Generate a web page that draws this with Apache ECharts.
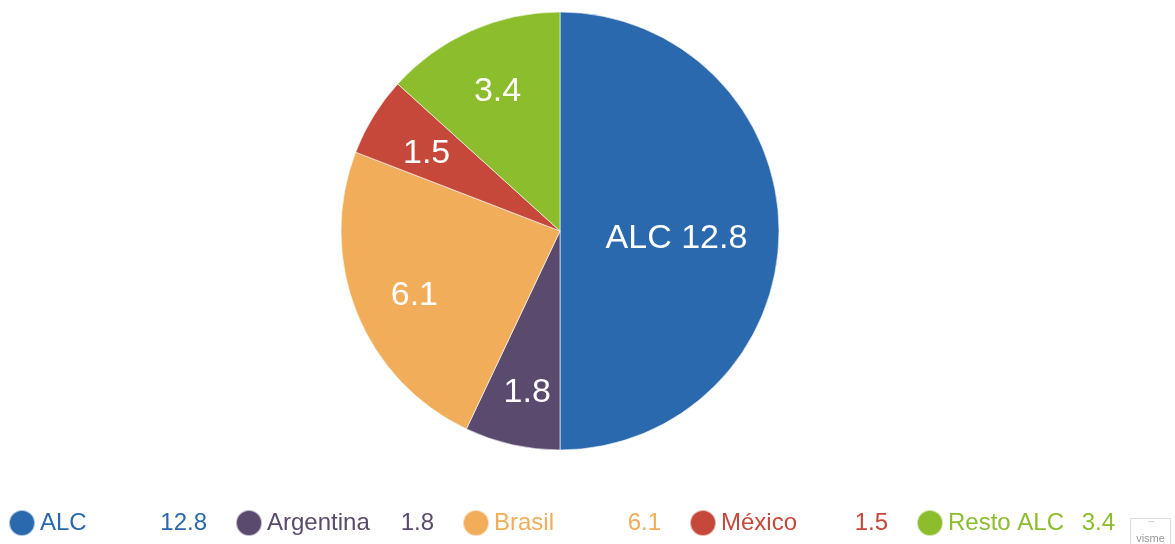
<!DOCTYPE html>
<html>
<head>
<meta charset="utf-8">
<script src="https://cdn.jsdelivr.net/npm/echarts@6/dist/echarts.min.js"></script>
<style>
  html, body { margin: 0; padding: 0; background: #fff; }
  #chart { width: 1175px; height: 544px; }
</style>
</head>
<body>
<div id="chart"></div>
<script>
const names = ['ALC', 'Argentina', 'Brasil', 'México', 'Resto ALC']
const values = [12.8, 1.8, 6.1, 1.5, 3.4]
const colors = ['#2a69ad', '#594a6e', '#f1ad59', '#c5483a', '#8bbd2c']

const chart = echarts.init(document.getElementById('chart'))

const pieData = names.map((name, i) => ({
  name,
  value: values[i],
  itemStyle: { color: colors[i] }
}))

const option = {
  animation: false,
  textStyle: { fontFamily: 'Liberation Sans, Arial, sans-serif' },
  legend: {
    left: 8,
    top: 509,
    padding: 0,
    orient: 'horizontal',
    icon: 'circle',
    itemWidth: 26,
    itemHeight: 26,
    itemGap: 28,
    itemTextGap: 3,
    selectedMode: false,
    data: names.map((name, i) => ({ name, textStyle: { color: colors[i] } })),
    formatter: (name) => `{n|${name}}{v|${values[names.indexOf(name)]}}`,
    textStyle: {
      fontSize: 24,
      rich: {
        n: { fontSize: 24, width: 124 },
        v: { fontSize: 24, width: 43, align: 'right' }
      }
    }
  },
  series: [
    {
      // main pie, only the big slice gets a label here
      type: 'pie',
      center: [560, 231],
      radius: [0, 219],
      startAngle: 90,
      clockwise: true,
      silent: true,
      itemStyle: { borderColor: 'rgba(255,255,255,0.6)', borderWidth: 1 },
      label: {
        show: true,
        position: 'inside',
        color: '#fff',
        fontSize: 34,
        offset: [4, 8],
        formatter: (p) => p.dataIndex === 0 ? `${p.name} ${p.value}` : ''
      },
      labelLine: { show: false },
      data: pieData
    },
    {
      // transparent ring that places the small slice labels further out
      type: 'pie',
      center: [560, 231],
      radius: [93, 219],
      startAngle: 90,
      clockwise: true,
      silent: true,
      itemStyle: { color: 'rgba(0,0,0,0)' },
      label: {
        show: true,
        position: 'inside',
        color: '#fff',
        fontSize: 34,
        offset: [2, 6],
        formatter: (p) => p.dataIndex === 0 ? '' : `${p.value}`
      },
      labelLine: { show: false },
      data: names.map((name, i) => ({ name, value: values[i] }))
    }
  ],
  graphic: [
    {
      type: 'group',
      left: 1130,
      top: 518,
      children: [
        { type: 'rect', shape: { x: 0, y: 0, width: 40, height: 26 }, style: { fill: '#fff', stroke: '#ddd', lineWidth: 1 } },
        { type: 'text', style: { x: 20, y: 20, text: 'visme', fill: '#999', fontSize: 11, align: 'center', verticalAlign: 'middle' } },
        { type: 'text', style: { x: 20, y: 8, text: '⌒', fill: '#aaa', fontSize: 10, align: 'center', verticalAlign: 'middle' } }
      ]
    }
  ]
}

chart.setOption(option)
</script>
</body>
</html>
